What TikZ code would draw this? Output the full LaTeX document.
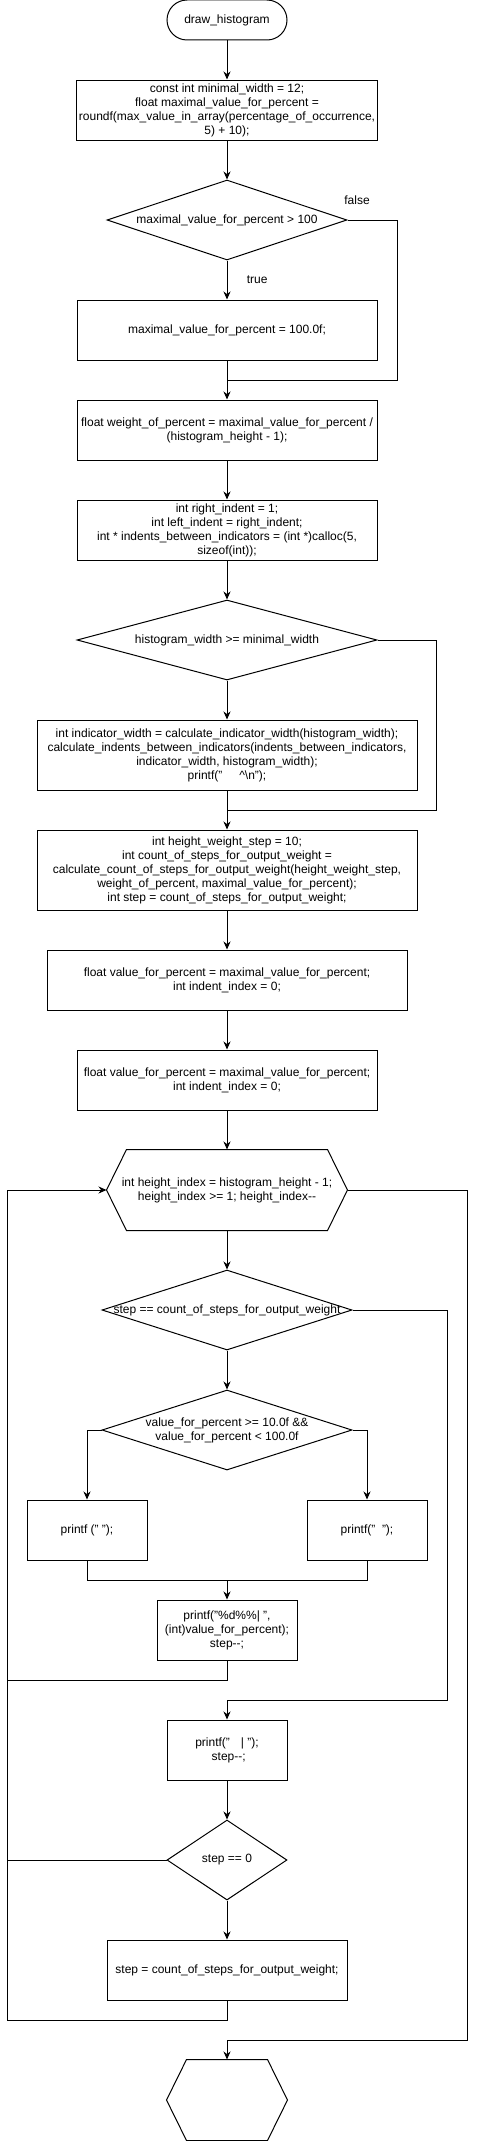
\documentclass[tikz,border=0pt]{standalone}
\usepackage{fontspec}
\setmainfont{Liberation Sans}
\usetikzlibrary{shapes.geometric,arrows.meta,positioning}
\newcommand{\minmin}{-\kern0pt-}
\begin{document}
\begin{tikzpicture}[x=1pt,y=-1pt,line width=1pt,
    font=\fontsize{12}{14}\selectfont,
    process/.style={draw,rectangle,align=center,inner sep=2pt,minimum height=60pt},
    terminal/.style={draw,rectangle,rounded corners=20pt,minimum width=120pt,minimum height=40pt},
    decision/.style={draw,diamond,inner sep=0pt,minimum height=80pt},
    loopbox/.style={rectangle,align=center,minimum height=80pt},
    flow/.style={-{Stealth[length=8pt,width=7pt]}}]
    \useasboundingbox (0,0) rectangle (477,2141);
    % Start and set-up
    \node[terminal] (start) at (227,20) {draw\_histogram};
    \node[process,minimum width=300pt] (init) at (227,110) {const int minimal\_width = 12;\\ float maximal\_value\_for\_percent =\\ roundf(max\_value\_in\_array(percentage\_of\_occurrence,\\ 5) + 10);};
    \node[decision,minimum width=240pt,label={center:maximal\_value\_for\_percent > 100}] (cond1) at (227,220) {};
    \node (falselbl) at (357,200) {false};
    \node[process,minimum width=300pt] (clamp) at (227,330) {maximal\_value\_for\_percent = 100.0f;};
    \coordinate (join1) at (227,380);
    \node[process,minimum width=300pt] (weight) at (227,430) {float weight\_of\_percent = maximal\_value\_for\_percent /\\ (histogram\_height - 1);};
    \node[process,minimum width=300pt] (indents) at (227,530) {int right\_indent = 1;\\ int left\_indent = right\_indent;\\ int * indents\_between\_indicators = (int *)calloc(5,\\ sizeof(int));};
    \node[decision,minimum width=300pt,label={center:histogram\_width >= minimal\_width}] (cond2) at (227,640) {};
    \node[process,minimum width=380pt,minimum height=70pt] (indicators) at (227,755) {int indicator\_width = calculate\_indicator\_width(histogram\_width);\\ calculate\_indents\_between\_indicators(indents\_between\_indicators,\\ indicator\_width, histogram\_width);\\ printf("\hspace*{17pt}\textasciicircum\textbackslash n");};
    \coordinate (join2) at (227,810);
    \node[process,minimum width=380pt,minimum height=80pt] (steps) at (227,870) {int height\_weight\_step = 10;\\ int count\_of\_steps\_for\_output\_weight =\\ calculate\_count\_of\_steps\_for\_output\_weight(height\_weight\_step,\\ weight\_of\_percent, maximal\_value\_for\_percent);\\ int step = count\_of\_steps\_for\_output\_weight;};
    \node[process,minimum width=360pt] (value1) at (227,980) {float value\_for\_percent = maximal\_value\_for\_percent;\\ int indent\_index = 0;};
    \node[process,minimum width=300pt] (value2) at (227,1080) {float value\_for\_percent = maximal\_value\_for\_percent;\\ int indent\_index = 0;};
    % Loop
    \node[loopbox,minimum width=240pt] (loop) at (227,1190) {int height\_index = histogram\_height - 1;\\ height\_index >= 1; height\_index\minmin};
    \draw (loop.west) -- ([xshift=20pt]loop.north west) -- ([xshift=-20pt]loop.north east) -- (loop.east) -- ([xshift=-20pt]loop.south east) -- ([xshift=20pt]loop.south west) -- cycle;
    \coordinate (loopback) at (7,1190);
    \node[decision,minimum width=250pt,label={center:step == count\_of\_steps\_for\_output\_weight}] (cond3) at (227,1310) {};
    \node[decision,minimum width=250pt,label={[align=center]center:{value\_for\_percent >= 10.0f \&\&\\ value\_for\_percent < 100.0f}}] (cond4) at (227,1430) {};
    \node[process,minimum width=120pt] (pad2) at (87,1530) {printf (" ");};
    \node[process,minimum width=120pt] (pad1) at (367,1530) {printf("\ \ ");};
    \coordinate (join3) at (227,1580);
    \node[process,minimum width=140pt] (printval) at (227,1630) {printf("\%d\%\%| ",\\ (int)value\_for\_percent);\\ step\minmin;};
    \coordinate (join4) at (227,1700);
    \node[process,minimum width=120pt] (printbar) at (227,1750) {printf("\hspace*{11pt}| ");\\ \ step\minmin;};
    \node[decision,minimum width=120pt,label={center:step == 0}] (cond5) at (227,1860) {};
    \node[process,minimum width=240pt] (reset) at (227,1970) {step = count\_of\_steps\_for\_output\_weight;};
    \coordinate (join5) at (227,2040);
    % End
    \node[loopbox,minimum width=120pt] (finish) at (227,2100) {};
    \draw (finish.west) -- ([xshift=20pt]finish.north west) -- ([xshift=-20pt]finish.north east) -- (finish.east) -- ([xshift=-20pt]finish.south east) -- ([xshift=20pt]finish.south west) -- cycle;
    % Connectors
    \draw[flow] (start) -- (init);
    \draw[flow] (init) -- (cond1);
    \draw[flow] (cond1) -- node[right=16pt] (truelbl) {true} (clamp);
    \draw (cond1.east) -- ++(50,0) |- (join1);
    \draw[flow] (clamp) -- (weight);
    \draw[flow] (weight) -- (indents);
    \draw[flow] (indents) -- (cond2);
    \draw[flow] (cond2) -- (indicators);
    \draw (cond2.east) -- ++(59,0) |- (join2);
    \draw[flow] (indicators) -- (steps);
    \draw[flow] (steps) -- (value1);
    \draw[flow] (value1) -- (value2);
    \draw[flow] (value2) -- (loop);
    \draw[flow] (loop) -- (cond3);
    \draw[flow] (cond3.east) -- ++(95,0) |- (join4) -- (printbar);
    \draw[flow] (cond3) -- (cond4);
    \draw[flow] (cond4.west) -| (pad2);
    \draw[flow] (cond4.east) -| (pad1);
    \draw (pad2.south) -- ++(0,20) -| (pad1.south);
    \draw[flow] (join3) -- (printval);
    \draw[flow] (printval.south) -- ++(0,20) -| (loopback) -- (loop.west);
    \draw[flow] (printbar) -- (cond5);
    \draw (cond5.west) -| (loopback);
    \draw[flow] (cond5) -- (reset);
    \draw (reset.south) -- ++(0,20) -| (loopback);
    \draw[flow] (loop.east) -- ++(120,0) |- (join5) -- (finish);
\end{tikzpicture}
\end{document}
